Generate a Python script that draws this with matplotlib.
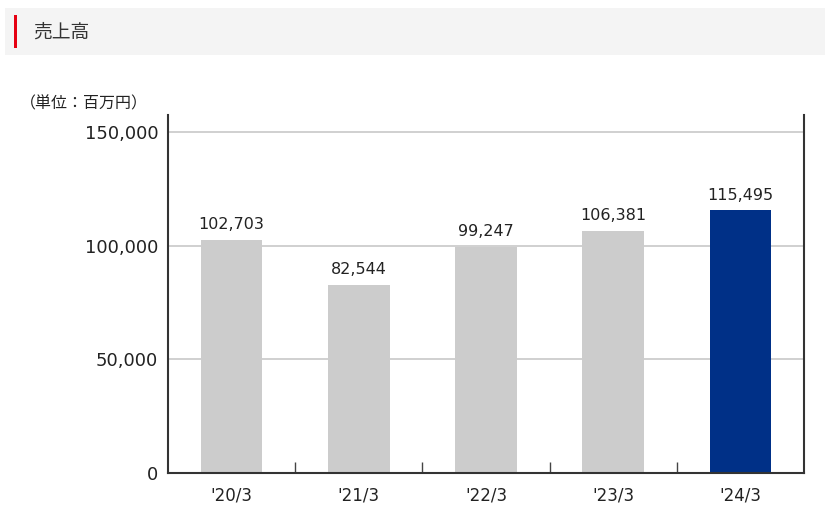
import matplotlib.pyplot as plt
from matplotlib.patches import Rectangle

plt.rcParams['font.family'] = ['Noto Sans CJK JP', 'DejaVu Sans']

# Data
years = ["'20/3", "'21/3", "'22/3", "'23/3", "'24/3"]
sales = [102703, 82544, 99247, 106381, 115495]
bar_colors = ['#cccccc', '#cccccc', '#cccccc', '#cccccc', '#003087']
y_ticks = [0, 50000, 100000, 150000]

fig = plt.figure(figsize=(8.25, 5.13), dpi=100)

# header band
fig.patches.append(Rectangle((5 / 825, 1 - 55 / 513), 820 / 825, 47 / 513,
                             transform=fig.transFigure, facecolor='#f4f4f4',
                             edgecolor='none', zorder=0))
fig.patches.append(Rectangle((13.5 / 825, 1 - 48 / 513), 3.5 / 825, 33 / 513,
                             transform=fig.transFigure, facecolor='#e60012',
                             edgecolor='none', zorder=1))
fig.text(33 / 825, 1 - 32 / 513, '売上高', fontsize=13.5, color='#333333',
         va='center', ha='left')

fig.text(20 / 825, 1 - 104 / 513, '（単位：百万円）', fontsize=11.5, color='#222222',
         va='center', ha='left')

ax = fig.add_axes([168 / 825, 1 - 473 / 513, 636 / 825, 358 / 513])
x = range(len(years))
bars = ax.bar(x, sales, width=0.485, color=bar_colors, zorder=2)
for xi, v in zip(x, sales):
    ax.text(xi, v + 3500, f'{v:,}', ha='center', va='bottom', fontsize=11.5,
            color='#222222', family=['DejaVu Sans'])

ax.set_xlim(-0.5, len(years) - 0.5)
ax.set_ylim(0, 157500)
ax.set_yticks(y_ticks)
ax.set_yticklabels([f'{t:,}' for t in y_ticks], fontsize=13, color='#222222',
                   family=['DejaVu Sans'])
ax.yaxis.grid(True, color='#c8c8c8', linewidth=1.2, zorder=0)
ax.tick_params(axis='y', length=0, pad=7)

ax.set_xticks(list(x))
ax.set_xticklabels(years, fontsize=12, color='#222222', family=['DejaVu Sans'])
ax.set_xticks([i + 0.5 for i in range(len(years) - 1)], minor=True)
ax.tick_params(axis='x', which='major', length=0, pad=10)
ax.tick_params(axis='x', which='minor', direction='in', length=8, width=1,
               color='#444444')

ax.spines['top'].set_visible(False)
for s in ['left', 'right', 'bottom']:
    ax.spines[s].set_color('#333333')
    ax.spines[s].set_linewidth(1.5)
ax.set_axisbelow(True)

fig.savefig('out.png', dpi=100)
